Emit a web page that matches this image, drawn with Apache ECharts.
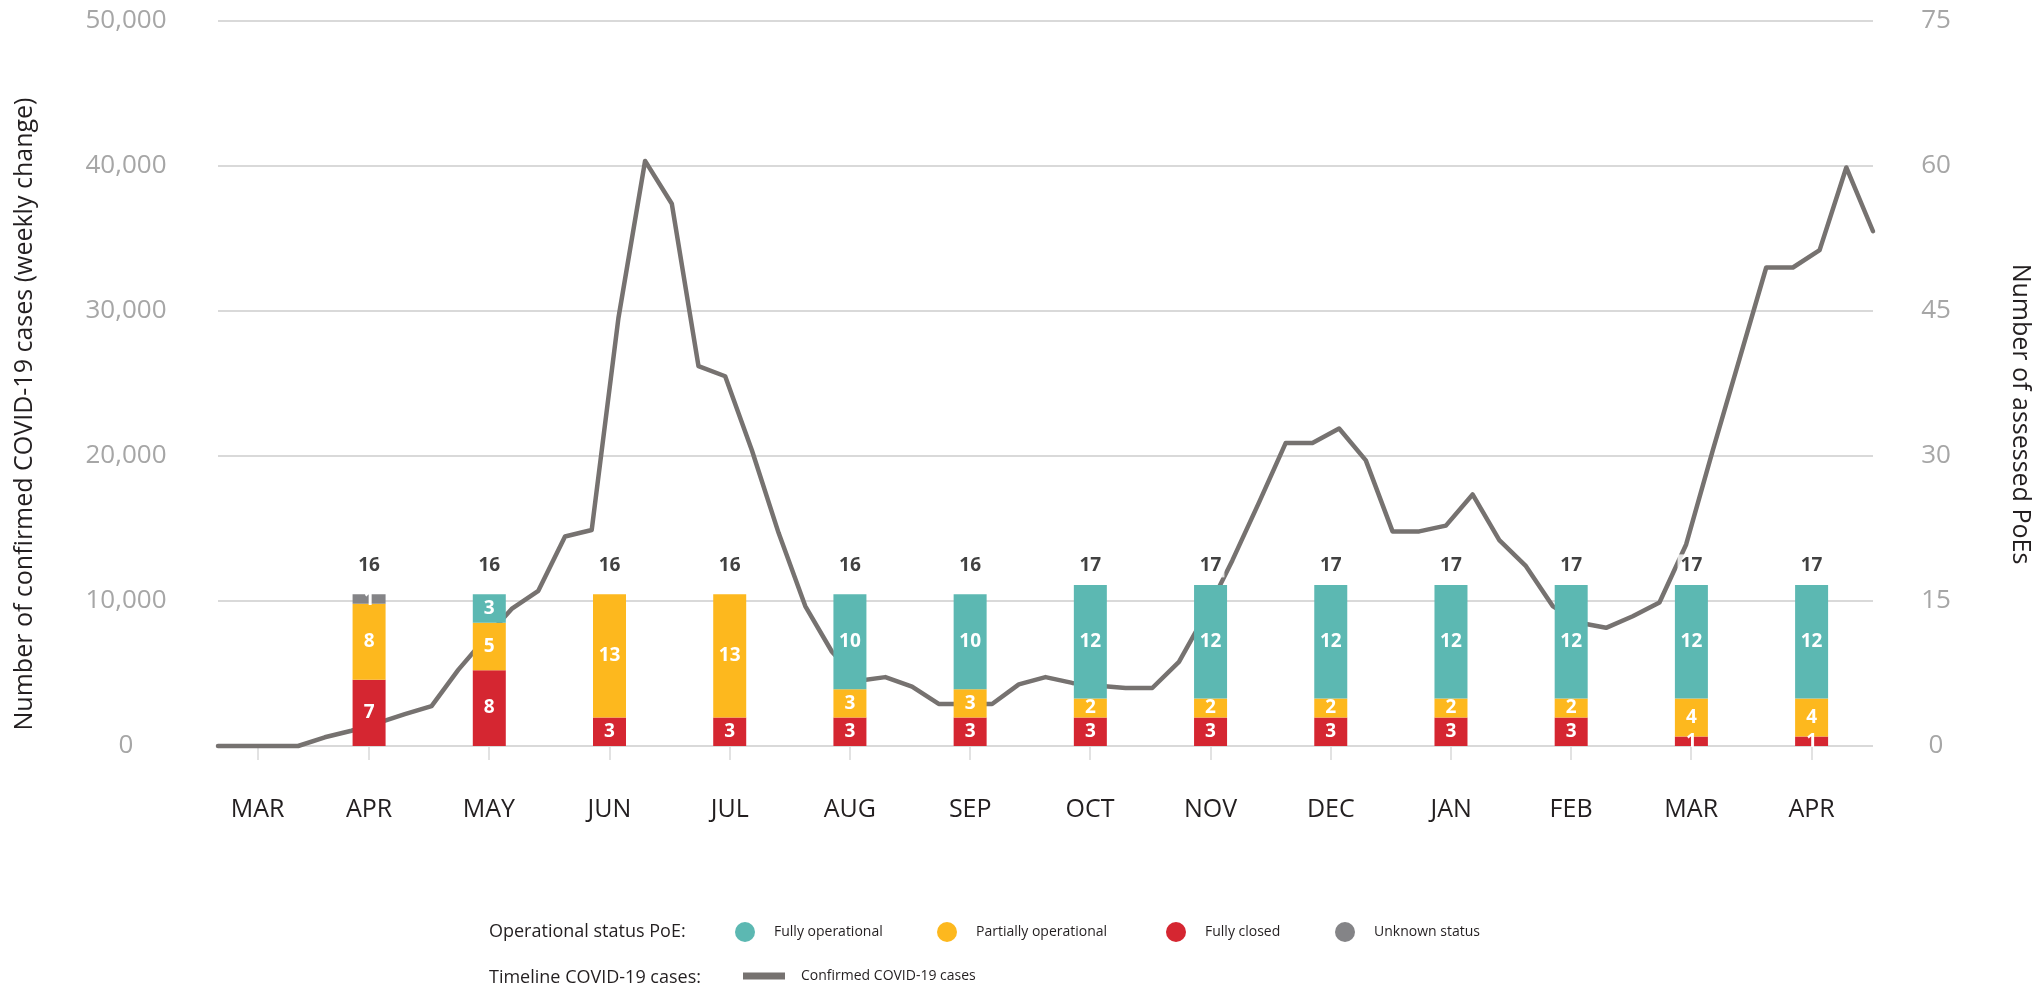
<!DOCTYPE html>
<html>
<head>
<meta charset="utf-8">
<title>PoE operational status and COVID-19 cases</title>
<script src="https://cdn.jsdelivr.net/npm/echarts@6.0.0/dist/echarts.min.js"></script>
<style>
    html, body { margin: 0; padding: 0; background: #fff; }
    #main { width: 2034px; height: 987px; }
</style>
</head>
<body>
<div id="main"></div>
<script type="text/javascript">
    // month labels of the timeline, and where each one sits (in weeks from the first data point)
    var monthLabels = ['MAR', 'APR', 'MAY', 'JUN', 'JUL', 'AUG', 'SEP', 'OCT', 'NOV', 'DEC', 'JAN', 'FEB', 'MAR', 'APR'];
    var monthWeek = [1.48, 5.66, 10.15, 14.66, 19.17, 23.67, 28.18, 32.67, 37.18, 41.69, 46.2, 50.69, 55.19, 59.7];

    // assessed PoEs by operational status, one value per month from APR to APR
    var fullyOperational     = [0, 3, 0, 0, 10, 10, 12, 12, 12, 12, 12, 12, 12];
    var partiallyOperational = [8, 5, 13, 13, 3, 3, 2, 2, 2, 2, 2, 4, 4];
    var fullyClosed          = [7, 8, 3, 3, 3, 3, 3, 3, 3, 3, 3, 1, 1];
    var unknownStatus        = [1, 0, 0, 0, 0, 0, 0, 0, 0, 0, 0, 0, 0];

    // confirmed COVID-19 cases, weekly change
    var weeklyCases = [
        0, 0, 0, 0, 600, 1050, 1600, 2200, 2750, 5250,
        7400, 9450, 10700, 14450, 14900, 29500, 40350, 37400, 26200, 25500,
        20400, 14700, 9650, 6500, 4500, 4750, 4100, 2900, 2900, 2900,
        4250, 4750, 4350, 4150, 4000, 4000, 5800, 9100, 12800, 16800,
        20900, 20900, 21900, 19700, 14800, 14800, 15200, 17350, 14200, 12400,
        9650, 8500, 8150, 8950, 9900, 13900, 20400, 26700, 33000, 33000,
        34200, 39900, 35500
    ];

    // axis ticks
    var casesTicks = [0, 10000, 20000, 30000, 40000, 50000];
    var poeTicks = [0, 15, 30, 45, 60, 75];

    var W = 2034, H = 987;
    var plotLeft = 218, plotRight = 1873, plotTop = 21, plotBottom = 746;
    var lastWeek = weeklyCases.length - 1;
    var barAxisMax = 76.5;

    function weekToX(w) {
        return plotLeft + w / lastWeek * (plotRight - plotLeft);
    }

    var barMonths = monthLabels.slice(1);
    var totals = barMonths.map(function (m, i) {
        return fullyOperational[i] + partiallyOperational[i] + fullyClosed[i] + unknownStatus[i];
    });
    var maxTotal = Math.max.apply(null, totals);
    var unitPx = (plotBottom - plotTop) / barAxisMax;

    var grey = '#a6a6a6';
    var dark = '#231f20';
    var font = 'Open Sans';

    var segmentLabel = {
        show: true,
        position: 'inside',
        color: '#fff',
        fontFamily: font,
        fontWeight: 'bold',
        fontSize: 19,
        formatter: function (p) { return p.value ? String(p.value) : ''; }
    };

    function statusBar(name, data, color) {
        return {
            name: name,
            type: 'bar',
            xAxisIndex: 1,
            yAxisIndex: 2,
            stack: 'poe',
            barWidth: 33,
            data: data,
            itemStyle: { color: color },
            label: segmentLabel,
            z: 3
        };
    }

    function statusLegend(name, centerX) {
        return {
            data: [name],
            left: centerX - 10,
            top: 922,
            padding: 0,
            icon: 'circle',
            itemWidth: 20,
            itemHeight: 20,
            selectedMode: false,
            textStyle: { fontFamily: font, fontSize: 14, color: dark, padding: [0, 0, 0, 14] }
        };
    }

    var myChart = echarts.init(document.getElementById('main'));

    var option = {
        animation: false,
        backgroundColor: '#fff',
        grid: [
            { left: plotLeft, right: W - plotRight, top: plotTop, bottom: H - plotBottom, outerBoundsMode: 'none' },
            { left: weekToX(monthWeek[1]), right: W - weekToX(monthWeek[monthWeek.length - 1]),
              top: plotTop, bottom: H - plotBottom, outerBoundsMode: 'none' }
        ],
        xAxis: [
            {
                type: 'value', gridIndex: 0, min: 0, max: lastWeek, offset: 5,
                axisLine: { show: false },
                splitLine: { show: false },
                axisTick: { show: true, customValues: monthWeek, length: 14, lineStyle: { color: '#d9d9d9', width: 1.5 } },
                axisLabel: {
                    customValues: monthWeek,
                    margin: 46,
                    color: dark,
                    fontFamily: font,
                    fontSize: 25,
                    formatter: function (v) {
                        var best = 0;
                        for (var i = 1; i < monthWeek.length; i++) {
                            if (Math.abs(monthWeek[i] - v) < Math.abs(monthWeek[best] - v)) best = i;
                        }
                        return monthLabels[best];
                    }
                }
            },
            { type: 'category', gridIndex: 1, data: barMonths, boundaryGap: false, show: false }
        ],
        yAxis: [
            {
                type: 'value', gridIndex: 0, position: 'left',
                min: casesTicks[0], max: casesTicks[casesTicks.length - 1], interval: casesTicks[1] - casesTicks[0],
                axisLine: { show: false },
                axisTick: { show: false },
                splitLine: { lineStyle: { color: '#d9d9d9', width: 2 } },
                axisLabel: {
                    align: 'center', margin: 92, color: grey, fontFamily: font, fontSize: 26,
                    formatter: function (v) { return v.toLocaleString('en-US'); }
                }
            },
            {
                type: 'value', gridIndex: 0, position: 'right',
                min: poeTicks[0], max: poeTicks[poeTicks.length - 1], interval: poeTicks[1] - poeTicks[0],
                axisLine: { show: false },
                axisTick: { show: false },
                splitLine: { show: false },
                axisLabel: { align: 'center', margin: 63, color: grey, fontFamily: font, fontSize: 26 }
            },
            // scale for the stacked bars (drawn a touch shorter than the right axis, as in the source)
            { type: 'value', gridIndex: 1, min: 0, max: barAxisMax, show: false }
        ],
        legend: [
            statusLegend('Fully operational', 745),
            statusLegend('Partially operational', 947),
            statusLegend('Fully closed', 1176),
            statusLegend('Unknown status', 1345),
            {
                data: ['Confirmed COVID-19 cases'],
                left: 743,
                top: 969,
                padding: 0,
                icon: 'rect',
                itemWidth: 42,
                itemHeight: 7,
                selectedMode: false,
                textStyle: { fontFamily: font, fontSize: 14, color: dark, padding: [0, 0, 0, 11] }
            }
        ],
        graphic: [
            {
                type: 'text', x: 25, y: 414, rotation: Math.PI / 2,
                style: { text: 'Number of confirmed COVID-19 cases (weekly change)', fontFamily: font, fontSize: 25,
                         fill: dark, align: 'center', verticalAlign: 'middle' }
            },
            {
                type: 'text', x: 2020, y: 414, rotation: -Math.PI / 2,
                style: { text: 'Number of assessed PoEs', fontFamily: font, fontSize: 25,
                         fill: dark, align: 'center', verticalAlign: 'middle' }
            },
            {
                type: 'text', x: 489, y: 932,
                style: { text: 'Operational status PoE:', fontFamily: font, fontSize: 18,
                         fill: dark, align: 'left', verticalAlign: 'middle' }
            },
            {
                type: 'text', x: 489, y: 978,
                style: { text: 'Timeline COVID-19 cases:', fontFamily: font, fontSize: 18,
                         fill: dark, align: 'left', verticalAlign: 'middle' }
            }
        ],
        series: [
            {
                name: 'Confirmed COVID-19 cases',
                type: 'line',
                xAxisIndex: 0,
                yAxisIndex: 0,
                data: weeklyCases.map(function (v, i) { return [i, v]; }),
                symbol: 'none',
                clip: false,
                itemStyle: { color: '#767270' },
                lineStyle: { color: '#767270', width: 4.5, cap: 'round', join: 'round' },
                z: 2
            },
            statusBar('Fully closed', fullyClosed, '#d52631'),
            statusBar('Partially operational', partiallyOperational, '#fdb81e'),
            statusBar('Fully operational', fullyOperational, '#5cb8b2'),
            statusBar('Unknown status', unknownStatus, '#848487'),
            {
                name: 'total',
                type: 'scatter',
                xAxisIndex: 1,
                yAxisIndex: 2,
                // totals sit on one line above the bars, whatever their height
                data: totals.map(function (t) {
                    return { value: t, label: { distance: 7 + (maxTotal - t) * unitPx } };
                }),
                symbolSize: 1,
                silent: true,
                itemStyle: { color: 'rgba(0,0,0,0)' },
                label: {
                    show: true, position: 'top', formatter: '{c}',
                    color: '#111', fontFamily: font, fontWeight: 'bold', fontSize: 19,
                    backgroundColor: '#fff', padding: [2, 3]
                },
                z: 10
            }
        ]
    };

    myChart.setOption(option);
</script>
</body>
</html>
